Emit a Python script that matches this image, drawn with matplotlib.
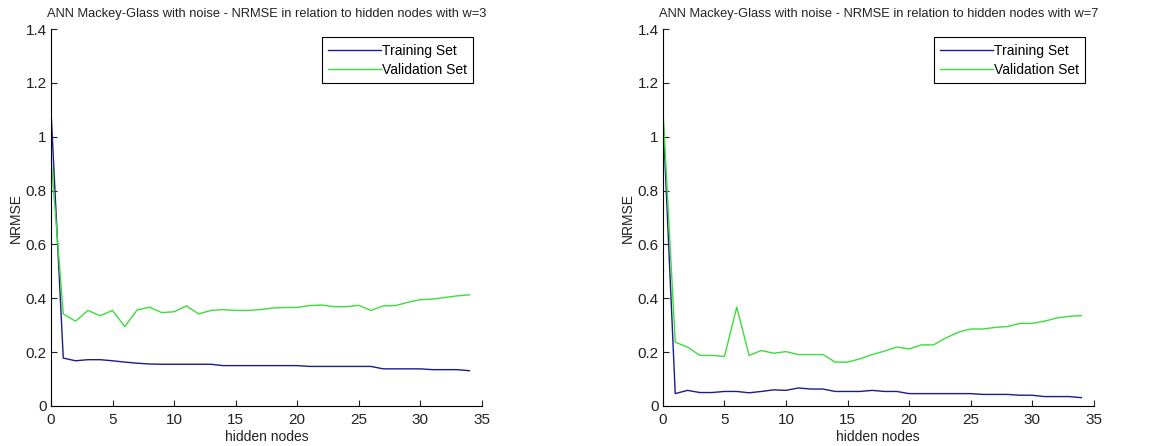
import matplotlib
matplotlib.use("Agg")
import matplotlib.pyplot as plt
import numpy as np

# hidden node counts
nodes = np.arange(0, 35)

# NRMSE for window w=3
train_w3 = [1.10, 0.178, 0.168, 0.172, 0.172, 0.168, 0.163, 0.159, 0.156, 0.155,
            0.155, 0.155, 0.155, 0.155, 0.150, 0.150, 0.150, 0.150, 0.150, 0.150,
            0.150, 0.147, 0.147, 0.147, 0.147, 0.147, 0.147, 0.138, 0.138, 0.138,
            0.138, 0.135, 0.135, 0.135, 0.131]
valid_w3 = [0.925, 0.342, 0.315, 0.355, 0.335, 0.355, 0.295, 0.357, 0.367, 0.347,
            0.350, 0.372, 0.342, 0.355, 0.358, 0.355, 0.355, 0.358, 0.364, 0.366,
            0.366, 0.373, 0.375, 0.369, 0.369, 0.374, 0.355, 0.372, 0.373, 0.385,
            0.395, 0.397, 0.403, 0.409, 0.413]

# NRMSE for window w=7
train_w7 = [1.08, 0.046, 0.058, 0.050, 0.050, 0.054, 0.054, 0.049, 0.054, 0.060,
            0.058, 0.067, 0.063, 0.063, 0.054, 0.054, 0.054, 0.058, 0.054, 0.054,
            0.046, 0.046, 0.046, 0.046, 0.046, 0.046, 0.043, 0.043, 0.043, 0.040,
            0.040, 0.035, 0.035, 0.035, 0.031]
valid_w7 = [1.10, 0.237, 0.219, 0.188, 0.188, 0.184, 0.367, 0.188, 0.206, 0.196,
            0.202, 0.191, 0.191, 0.191, 0.163, 0.163, 0.175, 0.191, 0.204, 0.219,
            0.212, 0.227, 0.227, 0.253, 0.274, 0.286, 0.286, 0.292, 0.295, 0.307,
            0.307, 0.315, 0.327, 0.333, 0.336]

windows = [3, 7]
train_sets = [train_w3, train_w7]
valid_sets = [valid_w3, valid_w7]

plt.rcParams['font.family'] = ['Liberation Sans', 'DejaVu Sans']

fig = plt.figure(figsize=(11.61, 4.46), dpi=100)
lefts = [0.0439, 0.571]

for left, w, tr, va in zip(lefts, windows, train_sets, valid_sets):
    ax = fig.add_axes([left, 0.0897, 0.371, 0.845])
    ax.plot(nodes, tr, color='#1c1c8a', lw=1.0, label='Training Set')
    ax.plot(nodes, va, color='#3ddc3d', lw=1.0, label='Validation Set')
    ax.set_xlim(0, 35)
    ax.set_ylim(0, 1.4)
    ax.set_xticks(np.arange(0, 36, 5))
    ax.set_yticks([0, 0.2, 0.4, 0.6, 0.8, 1.0, 1.2, 1.4])
    ax.set_yticklabels(['0', '0.2', '0.4', '0.6', '0.8', '1', '1.2', '1.4'])
    ax.spines['top'].set_visible(False)
    ax.spines['right'].set_visible(False)
    ax.tick_params(direction='in', length=4, labelsize=11, colors='#222222', pad=3)
    ax.tick_params(axis='x', pad=5)
    ax.set_title(f'ANN Mackey-Glass with noise - NRMSE in relation to hidden nodes with w={w}',
                 fontsize=9.3, color='#222222', pad=9)
    ax.set_xlabel('hidden nodes', fontsize=10, color='#222222', labelpad=2)
    ax.set_ylabel('NRMSE', fontsize=10, color='#222222', labelpad=2)
    leg = ax.legend(loc='upper right', fontsize=10, fancybox=False, framealpha=1,
                    edgecolor='black', handlelength=3.8, handletextpad=0.1,
                    borderpad=0.45, labelspacing=0.35, borderaxespad=0.6)
    leg.get_frame().set_linewidth(0.8)

fig.savefig('out.png', dpi=100)
